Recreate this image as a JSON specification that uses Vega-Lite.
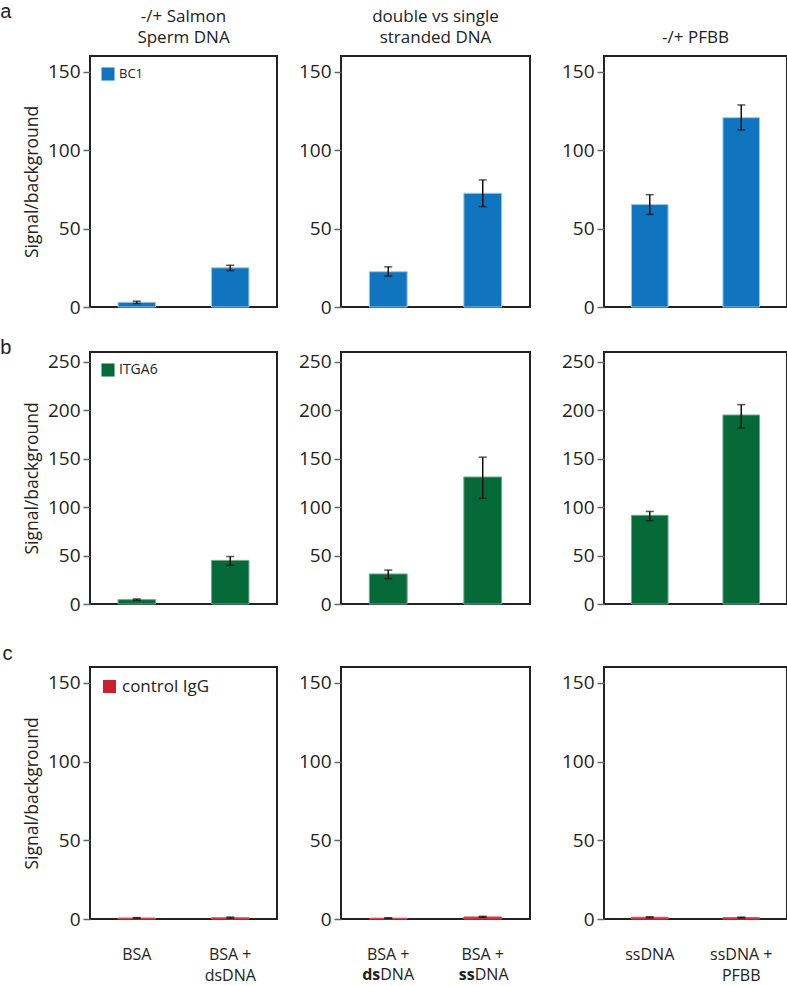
{
  "$schema": "https://vega.github.io/schema/vega-lite/v6.json",
  "padding": {"left": 0, "top": 2, "right": 2, "bottom": 0},
  "data": {"values": [
    {"panel": "a1", "ab": "BC1", "cond": "BSA", "value": 3.0, "lo": 2.2, "hi": 3.7},
    {"panel": "a1", "ab": "BC1", "cond": "BSA +|dsDNA", "value": 25.0, "lo": 23.2, "hi": 26.6},
    {"panel": "a2", "ab": "BC1", "cond": "BSA +|dsDNA", "value": 22.5, "lo": 19.7, "hi": 25.6},
    {"panel": "a2", "ab": "BC1", "cond": "BSA +|ssDNA", "value": 72.5, "lo": 64.0, "hi": 81.0},
    {"panel": "a3", "ab": "BC1", "cond": "ssDNA", "value": 65.3, "lo": 59.0, "hi": 71.6},
    {"panel": "a3", "ab": "BC1", "cond": "ssDNA +|PFBB", "value": 120.7, "lo": 112.9, "hi": 128.8},
    {"panel": "b1", "ab": "ITGA6", "cond": "BSA", "value": 4.5, "lo": 3.8, "hi": 5.2},
    {"panel": "b1", "ab": "ITGA6", "cond": "BSA +|dsDNA", "value": 45.0, "lo": 40.0, "hi": 49.0},
    {"panel": "b2", "ab": "ITGA6", "cond": "BSA +|dsDNA", "value": 31.0, "lo": 26.1, "hi": 35.0},
    {"panel": "b2", "ab": "ITGA6", "cond": "BSA +|ssDNA", "value": 131.0, "lo": 109.0, "hi": 151.5},
    {"panel": "b3", "ab": "ITGA6", "cond": "ssDNA", "value": 91.5, "lo": 86.0, "hi": 95.5},
    {"panel": "b3", "ab": "ITGA6", "cond": "ssDNA +|PFBB", "value": 195.0, "lo": 181.6, "hi": 205.7},
    {"panel": "c1", "ab": "control IgG", "cond": "BSA", "value": 0.6, "lo": 0.4, "hi": 0.9},
    {"panel": "c1", "ab": "control IgG", "cond": "BSA +|dsDNA", "value": 0.8, "lo": 0.5, "hi": 1.2},
    {"panel": "c2", "ab": "control IgG", "cond": "BSA +|dsDNA", "value": 0.5, "lo": 0.3, "hi": 0.8, "pre": "ds", "post": "DNA"},
    {"panel": "c2", "ab": "control IgG", "cond": "BSA +|ssDNA", "value": 1.3, "lo": 1.0, "hi": 1.7, "pre": "ss", "post": "DNA"},
    {"panel": "c3", "ab": "control IgG", "cond": "ssDNA", "value": 1.1, "lo": 0.8, "hi": 1.4},
    {"panel": "c3", "ab": "control IgG", "cond": "ssDNA +|PFBB", "value": 0.9, "lo": 0.6, "hi": 1.2}
  ]},
  "spacing": 20,
  "resolve": {"scale": {"color": "independent"}},
  "vconcat": [
    {
      "title": {"text": "a", "orient": "left", "anchor": "end", "angle": 0, "font": "Liberation Sans", "fontSize": 20, "offset": 0, "baseline": "top", "dy": -5},
      "spacing": 29,
      "resolve": {"scale": {"color": "independent"}},
      "hconcat": [
        {
          "spacing": 19,
          "resolve": {"scale": {"color": "independent"}},
          "hconcat": [
            {
              "width": 187, "height": 251,
              "title": {"text": ["-/+ Salmon", "Sperm DNA"], "offset": 9, "lineHeight": 21},
              "transform": [{"filter": "datum.panel == 'a1'"}],
              "encoding": {"x": {"field": "cond", "type": "nominal", "sort": null, "scale": {"paddingInner": 0.6, "paddingOuter": 0.3}, "axis": {"labels": false, "title": null}}},
              "layer": [
                {"mark": {"type": "bar", "stroke": "#9cc8ea", "strokeWidth": 1},
                 "encoding": {"y": {"field": "value", "type": "quantitative", "title": "Signal/background", "scale": {"domain": [0, 150]}, "axis": {"values": [0, 50, 100, 150]}},
                              "color": {"field": "ab", "type": "nominal", "scale": {"range": ["#1174be"]}, "legend": {"orient": "top-left", "title": null, "symbolType": "square", "symbolSize": 170, "symbolStrokeWidth": 0, "labelFontSize": 13, "offset": 11, "padding": 0, "labelColor": "#222"}}}},
                {"mark": {"type": "rule", "color": "#111", "strokeWidth": 1.5}, "encoding": {"y": {"field": "lo", "type": "quantitative", "title": "Signal/background"}, "y2": {"field": "hi"}}},
                {"mark": {"type": "tick", "color": "#111", "size": 8, "thickness": 1.5}, "encoding": {"y": {"field": "lo", "type": "quantitative", "title": "Signal/background"}}},
                {"mark": {"type": "tick", "color": "#111", "size": 8, "thickness": 1.5}, "encoding": {"y": {"field": "hi", "type": "quantitative", "title": "Signal/background"}}}
              ]
            },
            {
              "width": 189, "height": 251,
              "title": {"text": ["double vs single", "stranded DNA"], "offset": 9, "lineHeight": 21},
              "transform": [{"filter": "datum.panel == 'a2'"}],
              "encoding": {"x": {"field": "cond", "type": "nominal", "sort": null, "scale": {"paddingInner": 0.6, "paddingOuter": 0.3}, "axis": {"labels": false, "title": null}}},
              "layer": [
                {"mark": {"type": "bar", "stroke": "#9cc8ea", "strokeWidth": 1},
                 "encoding": {"y": {"field": "value", "type": "quantitative", "title": null, "scale": {"domain": [0, 150]}, "axis": {"values": [0, 50, 100, 150]}},
                              "color": {"field": "ab", "type": "nominal", "scale": {"range": ["#1174be"]}, "legend": null}}},
                {"mark": {"type": "rule", "color": "#111", "strokeWidth": 1.5}, "encoding": {"y": {"field": "lo", "type": "quantitative", "title": null}, "y2": {"field": "hi"}}},
                {"mark": {"type": "tick", "color": "#111", "size": 8, "thickness": 1.5}, "encoding": {"y": {"field": "lo", "type": "quantitative", "title": null}}},
                {"mark": {"type": "tick", "color": "#111", "size": 8, "thickness": 1.5}, "encoding": {"y": {"field": "hi", "type": "quantitative", "title": null}}}
              ]
            }
          ]
        },
        {
          "width": 183, "height": 251,
          "title": {"text": "-/+ PFBB", "offset": 9},
          "transform": [{"filter": "datum.panel == 'a3'"}],
          "encoding": {"x": {"field": "cond", "type": "nominal", "sort": null, "scale": {"paddingInner": 0.6, "paddingOuter": 0.3}, "axis": {"labels": false, "title": null}}},
          "layer": [
            {"mark": {"type": "bar", "stroke": "#9cc8ea", "strokeWidth": 1},
             "encoding": {"y": {"field": "value", "type": "quantitative", "title": null, "scale": {"domain": [0, 150]}, "axis": {"values": [0, 50, 100, 150]}},
                          "color": {"field": "ab", "type": "nominal", "scale": {"range": ["#1174be"]}, "legend": null}}},
            {"mark": {"type": "rule", "color": "#111", "strokeWidth": 1.5}, "encoding": {"y": {"field": "lo", "type": "quantitative", "title": null}, "y2": {"field": "hi"}}},
            {"mark": {"type": "tick", "color": "#111", "size": 8, "thickness": 1.5}, "encoding": {"y": {"field": "lo", "type": "quantitative", "title": null}}},
            {"mark": {"type": "tick", "color": "#111", "size": 8, "thickness": 1.5}, "encoding": {"y": {"field": "hi", "type": "quantitative", "title": null}}}
          ]
        }
      ]
    },
    {
      "spacing": 29,
      "resolve": {"scale": {"color": "independent"}},
      "vconcat": [
        {
          "title": {"text": "b", "orient": "left", "anchor": "end", "angle": 0, "font": "Liberation Sans", "fontSize": 20, "offset": 0, "baseline": "top", "dy": -13},
          "spacing": 29,
          "resolve": {"scale": {"color": "independent"}},
          "hconcat": [
            {
              "spacing": 19,
              "resolve": {"scale": {"color": "independent"}},
              "hconcat": [
                {
                  "width": 187, "height": 252,
                  "transform": [{"filter": "datum.panel == 'b1'"}],
                  "encoding": {"x": {"field": "cond", "type": "nominal", "sort": null, "scale": {"paddingInner": 0.6, "paddingOuter": 0.3}, "axis": {"labels": false, "title": null}}},
                  "layer": [
                    {"mark": {"type": "bar", "stroke": "#6aa888", "strokeWidth": 1},
                     "encoding": {"y": {"field": "value", "type": "quantitative", "title": "Signal/background", "scale": {"domain": [0, 250]}, "axis": {"values": [0, 50, 100, 150, 200, 250]}},
                                  "color": {"field": "ab", "type": "nominal", "scale": {"range": ["#066a38"]}, "legend": {"orient": "top-left", "title": null, "symbolType": "square", "symbolSize": 170, "symbolStrokeWidth": 0, "labelFontSize": 14, "offset": 11, "padding": 0, "labelColor": "#222"}}}},
                    {"mark": {"type": "rule", "color": "#111", "strokeWidth": 1.5}, "encoding": {"y": {"field": "lo", "type": "quantitative", "title": "Signal/background"}, "y2": {"field": "hi"}}},
                    {"mark": {"type": "tick", "color": "#111", "size": 8, "thickness": 1.5}, "encoding": {"y": {"field": "lo", "type": "quantitative", "title": "Signal/background"}}},
                    {"mark": {"type": "tick", "color": "#111", "size": 8, "thickness": 1.5}, "encoding": {"y": {"field": "hi", "type": "quantitative", "title": "Signal/background"}}}
                  ]
                },
                {
                  "width": 189, "height": 252,
                  "transform": [{"filter": "datum.panel == 'b2'"}],
                  "encoding": {"x": {"field": "cond", "type": "nominal", "sort": null, "scale": {"paddingInner": 0.6, "paddingOuter": 0.3}, "axis": {"labels": false, "title": null}}},
                  "layer": [
                    {"mark": {"type": "bar", "stroke": "#6aa888", "strokeWidth": 1},
                     "encoding": {"y": {"field": "value", "type": "quantitative", "title": null, "scale": {"domain": [0, 250]}, "axis": {"values": [0, 50, 100, 150, 200, 250]}},
                                  "color": {"field": "ab", "type": "nominal", "scale": {"range": ["#066a38"]}, "legend": null}}},
                    {"mark": {"type": "rule", "color": "#111", "strokeWidth": 1.5}, "encoding": {"y": {"field": "lo", "type": "quantitative", "title": null}, "y2": {"field": "hi"}}},
                    {"mark": {"type": "tick", "color": "#111", "size": 8, "thickness": 1.5}, "encoding": {"y": {"field": "lo", "type": "quantitative", "title": null}}},
                    {"mark": {"type": "tick", "color": "#111", "size": 8, "thickness": 1.5}, "encoding": {"y": {"field": "hi", "type": "quantitative", "title": null}}}
                  ]
                }
              ]
            },
            {
              "width": 183, "height": 252,
              "transform": [{"filter": "datum.panel == 'b3'"}],
              "encoding": {"x": {"field": "cond", "type": "nominal", "sort": null, "scale": {"paddingInner": 0.6, "paddingOuter": 0.3}, "axis": {"labels": false, "title": null}}},
              "layer": [
                {"mark": {"type": "bar", "stroke": "#6aa888", "strokeWidth": 1},
                 "encoding": {"y": {"field": "value", "type": "quantitative", "title": null, "scale": {"domain": [0, 250]}, "axis": {"values": [0, 50, 100, 150, 200, 250]}},
                              "color": {"field": "ab", "type": "nominal", "scale": {"range": ["#066a38"]}, "legend": null}}},
                {"mark": {"type": "rule", "color": "#111", "strokeWidth": 1.5}, "encoding": {"y": {"field": "lo", "type": "quantitative", "title": null}, "y2": {"field": "hi"}}},
                {"mark": {"type": "tick", "color": "#111", "size": 8, "thickness": 1.5}, "encoding": {"y": {"field": "lo", "type": "quantitative", "title": null}}},
                {"mark": {"type": "tick", "color": "#111", "size": 8, "thickness": 1.5}, "encoding": {"y": {"field": "hi", "type": "quantitative", "title": null}}}
              ]
            }
          ]
        },
        {
          "title": {"text": "c", "orient": "left", "anchor": "end", "angle": 0, "font": "Liberation Sans", "fontSize": 20, "offset": 0, "baseline": "top", "dy": -22},
          "spacing": 29,
          "resolve": {"scale": {"color": "independent"}},
          "hconcat": [
            {
              "spacing": 19,
              "resolve": {"scale": {"color": "independent"}},
              "hconcat": [
                {
                  "width": 187, "height": 252,
                  "transform": [{"filter": "datum.panel == 'c1'"}],
                  "encoding": {"x": {"field": "cond", "type": "nominal", "sort": null, "scale": {"paddingInner": 0.6, "paddingOuter": 0.3}, "axis": {"title": null, "labelExpr": "split(datum.label, '|')"}}},
                  "layer": [
                    {"mark": {"type": "bar", "stroke": "#d9505c", "strokeWidth": 1},
                     "encoding": {"y": {"field": "value", "type": "quantitative", "title": "Signal/background", "scale": {"domain": [0, 150]}, "axis": {"values": [0, 50, 100, 150]}},
                                  "color": {"field": "ab", "type": "nominal", "scale": {"range": ["#c8202e"]}, "legend": {"orient": "top-left", "title": null, "symbolType": "square", "symbolSize": 170, "symbolStrokeWidth": 0, "labelFontSize": 17, "offset": 11, "padding": 0, "labelColor": "#222"}}}},
                    {"mark": {"type": "rule", "color": "#111", "strokeWidth": 1.5}, "encoding": {"y": {"field": "lo", "type": "quantitative", "title": "Signal/background"}, "y2": {"field": "hi"}}},
                    {"mark": {"type": "tick", "color": "#111", "size": 8, "thickness": 1.5}, "encoding": {"y": {"field": "lo", "type": "quantitative", "title": "Signal/background"}}},
                    {"mark": {"type": "tick", "color": "#111", "size": 8, "thickness": 1.5}, "encoding": {"y": {"field": "hi", "type": "quantitative", "title": "Signal/background"}}}
                  ]
                },
                {
                  "width": 189, "height": 252,
                  "transform": [{"filter": "datum.panel == 'c2'"}],
                  "encoding": {"x": {"field": "cond", "type": "nominal", "sort": null, "scale": {"paddingInner": 0.6, "paddingOuter": 0.3}, "axis": {"title": null, "labelExpr": "split(datum.label, '|')[0]"}}},
                  "layer": [
                    {"mark": {"type": "bar", "stroke": "#d9505c", "strokeWidth": 1},
                     "encoding": {"y": {"field": "value", "type": "quantitative", "title": null, "scale": {"domain": [0, 150]}, "axis": {"values": [0, 50, 100, 150]}},
                                  "color": {"field": "ab", "type": "nominal", "scale": {"range": ["#c8202e"]}, "legend": null}}},
                    {"mark": {"type": "rule", "color": "#111", "strokeWidth": 1.5}, "encoding": {"y": {"field": "lo", "type": "quantitative", "title": null}, "y2": {"field": "hi"}}},
                    {"mark": {"type": "tick", "color": "#111", "size": 8, "thickness": 1.5}, "encoding": {"y": {"field": "lo", "type": "quantitative", "title": null}}},
                    {"mark": {"type": "tick", "color": "#111", "size": 8, "thickness": 1.5}, "encoding": {"y": {"field": "hi", "type": "quantitative", "title": null}}},
                    {"mark": {"type": "text", "align": "right", "baseline": "top", "dy": 48, "dx": -8, "fontSize": 16, "fontWeight": "bold", "color": "#222", "clip": false},
                     "encoding": {"y": {"datum": 0, "type": "quantitative"}, "text": {"field": "pre"}}},
                    {"mark": {"type": "text", "align": "left", "baseline": "top", "dy": 48, "dx": -8, "fontSize": 16, "color": "#222", "clip": false},
                     "encoding": {"y": {"datum": 0, "type": "quantitative"}, "text": {"field": "post"}}}
                  ]
                }
              ]
            },
            {
              "width": 183, "height": 252,
              "transform": [{"filter": "datum.panel == 'c3'"}],
              "encoding": {"x": {"field": "cond", "type": "nominal", "sort": null, "scale": {"paddingInner": 0.6, "paddingOuter": 0.3}, "axis": {"title": null, "labelExpr": "split(datum.label, '|')"}}},
              "layer": [
                {"mark": {"type": "bar", "stroke": "#d9505c", "strokeWidth": 1},
                 "encoding": {"y": {"field": "value", "type": "quantitative", "title": null, "scale": {"domain": [0, 150]}, "axis": {"values": [0, 50, 100, 150]}},
                              "color": {"field": "ab", "type": "nominal", "scale": {"range": ["#c8202e"]}, "legend": null}}},
                {"mark": {"type": "rule", "color": "#111", "strokeWidth": 1.5}, "encoding": {"y": {"field": "lo", "type": "quantitative", "title": null}, "y2": {"field": "hi"}}},
                {"mark": {"type": "tick", "color": "#111", "size": 8, "thickness": 1.5}, "encoding": {"y": {"field": "lo", "type": "quantitative", "title": null}}},
                {"mark": {"type": "tick", "color": "#111", "size": 8, "thickness": 1.5}, "encoding": {"y": {"field": "hi", "type": "quantitative", "title": null}}}
              ]
            }
          ]
        }
      ]
    }
  ],
  "config": {
    "font": "Open Sans",
    "view": {"stroke": "#222", "strokeWidth": 2},
    "axis": {"grid": false, "domain": false, "labelColor": "#222", "titleColor": "#222", "titleFontWeight": "normal"},
    "axisY": {"tickSize": 7, "tickColor": "#666", "tickWidth": 1.5, "labelFontSize": 19, "labelPadding": 3, "titleFontSize": 17.5, "titlePadding": 6},
    "axisX": {"ticks": false, "tickSize": 0, "labelFontSize": 16, "labelPadding": 27, "labelBaseline": "top", "labelLineHeight": 21, "labelAngle": 0},
    "title": {"fontWeight": "normal", "fontSize": 17, "color": "#222"}
  }
}
